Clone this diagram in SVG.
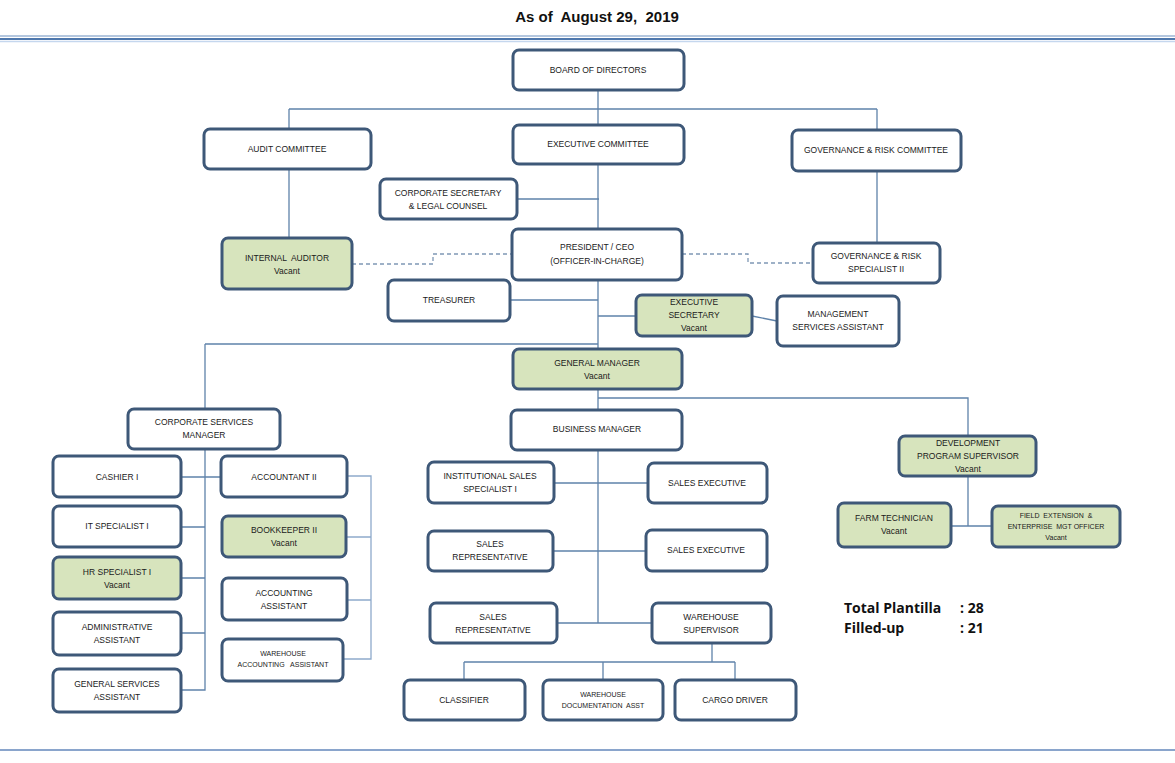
<svg xmlns="http://www.w3.org/2000/svg" width="1175" height="763" viewBox="0 0 1175 763">
<style>
text{white-space:pre}
.b{fill:#fff;stroke:#3e5878;stroke-width:3}
.v{fill:#d7e4bd;stroke:#3e5878;stroke-width:3}
.t{font-family:"Liberation Sans",Arial,sans-serif;font-size:8.5px;fill:#1a1a1a;text-anchor:middle}
.s{font-size:7px}
.xs{font-size:7px}
.c{fill:none;stroke:#5f83aa;stroke-width:1.3}
.cl{fill:none;stroke:#8eaacb;stroke-width:1.3}
.d{fill:none;stroke:#7f98b5;stroke-width:1.3;stroke-dasharray:4 3}
.h{font-family:"Liberation Sans",Arial,sans-serif;font-weight:bold;fill:#111}
.p{font-family:"Open Sans","Liberation Sans",sans-serif;font-weight:bold;font-size:14px;fill:#111}
</style>
<rect width="1175" height="763" fill="#fff"/>
<text class="h" x="597" y="22" font-size="15" text-anchor="middle">As of  August 29,  2019</text>
<line x1="0" y1="36" x2="1175" y2="36" stroke="#6b8fc0" stroke-width="1.2"/>
<line x1="0" y1="39" x2="1175" y2="39" stroke="#4f78ad" stroke-width="2"/>
<line x1="0" y1="41.5" x2="1175" y2="41.5" stroke="#c5d7ee" stroke-width="1.5"/>
<line x1="0" y1="750" x2="1175" y2="750" stroke="#8aa5cc" stroke-width="2"/>

<g id="connectors">
<path class="c" d="M598 90V623M289 109H877M289 109V129M877 109V130M289 169V238M877 171V243"/>
<path class="c" d="M517 199H599M510 300H598M598 316H636M752 316L777 321"/>
<path class="d" d="M352 264H433V254H512M682 254H748V263H812"/>
<path class="c" d="M205 344H598M205 344V409M598 398H968V436"/>
<path class="c" d="M205 449V690H181M181 477H221M181 527H205M181 578H205M181 633H205"/>
<path class="cl" d="M347 476H371V659H343M346 537H371M347 600H371"/>
<path class="c" d="M554 483H648M553 551H646M557 623H652"/>
<path class="c" d="M712 643V662M464 662H735M464 662V680M603 662V680M735 662V680"/>
<path class="c" d="M968 477V526H992M951 526H968"/>
</g>

<g id="n-board"><rect class="b" x="513" y="50" width="171" height="40" rx="6"/><text class="t" x="598" y="73">BOARD OF DIRECTORS</text></g>
<g id="n-audit"><rect class="b" x="204" y="129" width="167" height="40" rx="6"/><text class="t" x="287" y="152">AUDIT COMMITTEE</text></g>
<g id="n-exec"><rect class="b" x="513" y="125" width="171" height="39" rx="6"/><text class="t" x="598" y="147">EXECUTIVE COMMITTEE</text></g>
<g id="n-govcom"><rect class="b" x="792" y="130" width="169" height="41" rx="6"/><text class="t" x="876" y="153" font-size="8">GOVERNANCE &amp; RISK COMMITTEE</text></g>
<g id="n-corpsec"><rect class="b" x="380" y="179" width="137" height="40" rx="6"/><text class="t" x="448" y="196">CORPORATE SECRETARY</text><text class="t" x="448" y="209">&amp; LEGAL COUNSEL</text></g>
<g id="n-pres"><rect class="b" x="512" y="229" width="170" height="51" rx="6"/><text class="t" x="597" y="250">PRESIDENT / CEO</text><text class="t" x="597" y="264">(OFFICER-IN-CHARGE)</text></g>
<g id="n-intaud"><rect class="v" x="222" y="238" width="130" height="51" rx="6"/><text class="t" x="287" y="261" font-size="9">INTERNAL  AUDITOR</text><text class="t" x="287" y="274" font-size="9">Vacant</text></g>
<g id="n-govspec"><rect class="b" x="813" y="243" width="127" height="40" rx="6"/><text class="t" x="876" y="259">GOVERNANCE &amp; RISK</text><text class="t" x="876" y="272">SPECIALIST II</text></g>
<g id="n-treas"><rect class="b" x="388" y="280" width="122" height="41" rx="6"/><text class="t" x="449" y="303">TREASURER</text></g>
<g id="n-execsec"><rect class="v" x="636" y="295" width="116" height="41" rx="6"/><text class="t" x="694" y="305">EXECUTIVE</text><text class="t" x="694" y="318">SECRETARY</text><text class="t" x="694" y="331">Vacant</text></g>
<g id="n-msa"><rect class="b" x="777" y="296" width="122" height="50" rx="6"/><text class="t" x="838" y="317">MANAGEMENT</text><text class="t" x="838" y="330">SERVICES ASSISTANT</text></g>
<g id="n-gm"><rect class="v" x="513" y="349" width="169" height="40" rx="6"/><text class="t" x="597" y="366">GENERAL MANAGER</text><text class="t" x="597" y="379">Vacant</text></g>
<g id="n-csm"><rect class="b" x="128" y="409" width="152" height="40" rx="6"/><text class="t" x="204" y="425">CORPORATE SERVICES</text><text class="t" x="204" y="438">MANAGER</text></g>
<g id="n-bm"><rect class="b" x="511" y="410" width="171" height="40" rx="6"/><text class="t" x="597" y="432">BUSINESS MANAGER</text></g>
<g id="n-dps"><rect class="v" x="899" y="436" width="137" height="40" rx="6"/><text class="t" x="968" y="446">DEVELOPMENT</text><text class="t" x="968" y="459">PROGRAM SUPERVISOR</text><text class="t" x="968" y="472">Vacant</text></g>
<g id="n-cashier"><rect class="b" x="53" y="456" width="128" height="41" rx="6"/><text class="t" x="117" y="480">CASHIER I</text></g>
<g id="n-acct2"><rect class="b" x="221" y="456" width="126" height="41" rx="6"/><text class="t" x="284" y="480">ACCOUNTANT II</text></g>
<g id="n-it"><rect class="b" x="53" y="506" width="128" height="41" rx="6"/><text class="t" x="117" y="529">IT SPECIALIST I</text></g>
<g id="n-book"><rect class="v" x="222" y="516" width="124" height="41" rx="6"/><text class="t" x="284" y="533">BOOKKEEPER II</text><text class="t" x="284" y="546">Vacant</text></g>
<g id="n-hr"><rect class="v" x="53" y="557" width="128" height="42" rx="6"/><text class="t" x="117" y="575">HR SPECIALIST I</text><text class="t" x="117" y="588">Vacant</text></g>
<g id="n-admin"><rect class="b" x="53" y="612" width="128" height="43" rx="6"/><text class="t" x="117" y="630">ADMINISTRATIVE</text><text class="t" x="117" y="643">ASSISTANT</text></g>
<g id="n-gsa"><rect class="b" x="53" y="669" width="128" height="43" rx="6"/><text class="t" x="117" y="687">GENERAL SERVICES</text><text class="t" x="117" y="700">ASSISTANT</text></g>
<g id="n-acctasst"><rect class="b" x="222" y="578" width="125" height="42" rx="6"/><text class="t" x="284" y="596">ACCOUNTING</text><text class="t" x="284" y="609">ASSISTANT</text></g>
<g id="n-whacct"><rect class="b" x="222" y="639" width="121" height="42" rx="6"/><text class="t s" x="283" y="656">WAREHOUSE</text><text class="t s" x="283" y="667">ACCOUNTING   ASSISTANT</text></g>
<g id="n-iss"><rect class="b" x="428" y="462" width="126" height="41" rx="6"/><text class="t" x="490" y="479">INSTITUTIONAL SALES</text><text class="t" x="490" y="492">SPECIALIST I</text></g>
<g id="n-se1"><rect class="b" x="648" y="463" width="119" height="40" rx="6"/><text class="t" x="707" y="486">SALES EXECUTIVE</text></g>
<g id="n-sr1"><rect class="b" x="428" y="531" width="125" height="40" rx="6"/><text class="t" x="490" y="547">SALES</text><text class="t" x="490" y="560">REPRESENTATIVE</text></g>
<g id="n-se2"><rect class="b" x="646" y="530" width="121" height="41" rx="6"/><text class="t" x="706" y="553">SALES EXECUTIVE</text></g>
<g id="n-sr2"><rect class="b" x="430" y="603" width="127" height="40" rx="6"/><text class="t" x="493" y="620">SALES</text><text class="t" x="493" y="633">REPRESENTATIVE</text></g>
<g id="n-whsup"><rect class="b" x="652" y="603" width="119" height="40" rx="6"/><text class="t" x="711" y="620">WAREHOUSE</text><text class="t" x="711" y="633">SUPERVISOR</text></g>
<g id="n-class"><rect class="b" x="404" y="680" width="121" height="40" rx="6"/><text class="t" x="464" y="703">CLASSIFIER</text></g>
<g id="n-whdoc"><rect class="b" x="543" y="680" width="120" height="40" rx="6"/><text class="t s" x="603" y="697">WAREHOUSE</text><text class="t s" x="603" y="708">DOCUMENTATION  ASST</text></g>
<g id="n-cargo"><rect class="b" x="675" y="680" width="121" height="40" rx="6"/><text class="t" x="735" y="703">CARGO DRIVER</text></g>
<g id="n-farm"><rect class="v" x="838" y="503" width="113" height="44" rx="6"/><text class="t" x="894" y="521">FARM TECHNICIAN</text><text class="t" x="894" y="534">Vacant</text></g>
<g id="n-field"><rect class="v" x="992" y="506" width="128" height="41" rx="6"/><text class="t xs" x="1056" y="518">FIELD  EXTENSION  &amp;</text><text class="t xs" x="1056" y="529">ENTERPRISE  MGT OFFICER</text><text class="t xs" x="1056" y="540">Vacant</text></g>

<g id="summary">
<text class="p" x="844" y="613">Total Plantilla</text><text class="p" x="960" y="613">: 28</text>
<text class="p" x="844" y="633">Filled-up</text><text class="p" x="960" y="633">: 21</text>
</g>
</svg>
